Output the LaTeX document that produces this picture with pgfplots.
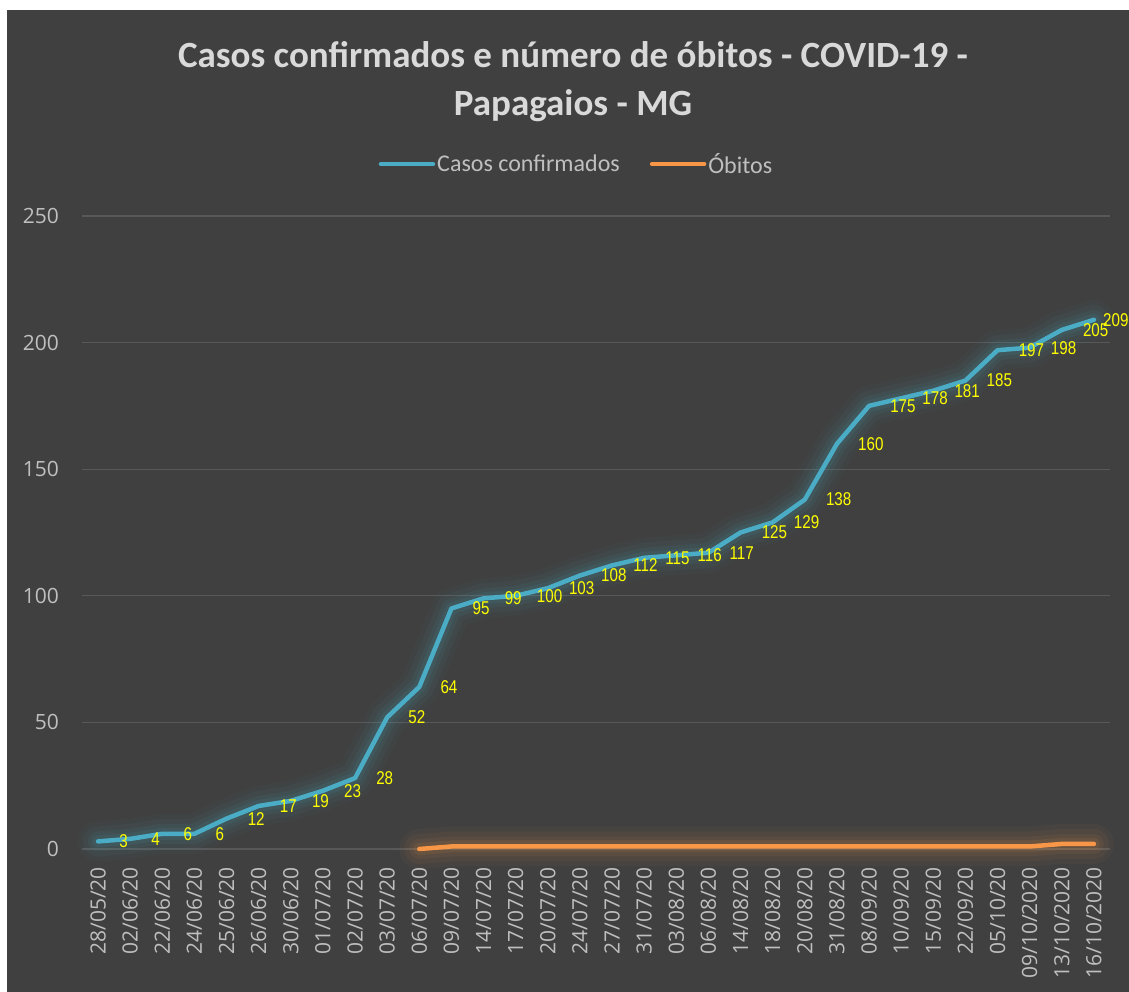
\documentclass[border=0pt]{standalone}
\usepackage{fontspec}
\setmainfont{Carlito}
\newfontfamily\opensans{Open Sans}
\newfontfamily\narrow[FakeStretch=0.82]{Liberation Sans}
\usepackage{pgfplots}
\usepackage{pgfplotstable}
\pgfplotsset{compat=1.18}
\definecolor{bg}{RGB}{64,64,64}
\definecolor{casos}{RGB}{75,172,198}
\definecolor{obitos}{RGB}{247,150,70}
\definecolor{gridc}{RGB}{88,88,88}
\definecolor{ticktxt}{RGB}{191,191,191}
\definecolor{titletxt}{RGB}{217,217,217}
\definecolor{lbl}{RGB}{255,255,0}

\pgfplotstableread{
x casos
0 3
1 4
2 6
3 6
4 12
5 17
6 19
7 23
8 28
9 52
10 64
11 95
12 99
13 100
14 103
15 108
16 112
17 115
18 116
19 117
20 125
21 129
22 138
23 160
24 175
25 178
26 181
27 185
28 197
29 198
30 205
31 209
}\casostab

\pgfplotstableread{
x obitos
10 0
11 1
12 1
13 1
14 1
15 1
16 1
17 1
18 1
19 1
20 1
21 1
22 1
23 1
24 1
25 1
26 1
27 1
28 1
29 1
30 2
31 2
}\obitostab

\begin{document}
\begin{tikzpicture}[x=1pt,y=1pt]
\useasboundingbox (0,0) rectangle (1129,992);
\fill[white] (0,0) rectangle (1129,992);
\fill[bg] (7,0) rectangle (1129,982);
\node[font=\bfseries\fontsize{37}{48}\selectfont, text=titletxt, align=center] at (573,910) {Casos confirmados e número de óbitos - COVID-19 -\\Papagaios - MG};
\begin{axis}[
  at={(82pt,143pt)}, anchor=south west,
  width=1028pt, height=633pt, scale only axis,
  xmin=-0.5, xmax=31.5, ymin=0, ymax=250,
  ytick={0,50,...,250},
  xtick={0,...,31},
  xticklabels={28/05/20,02/06/20,22/06/20,24/06/20,25/06/20,26/06/20,30/06/20,01/07/20,02/07/20,03/07/20,06/07/20,09/07/20,14/07/20,17/07/20,20/07/20,24/07/20,27/07/20,31/07/20,03/08/20,06/08/20,14/08/20,18/08/20,20/08/20,31/08/20,08/09/20,10/09/20,15/09/20,22/09/20,05/10/20,09/10/2020,13/10/2020,16/10/2020},
  major tick length=0pt,
  axis line style={draw=none},
  ymajorgrids, major grid style={gridc, line width=1.2pt},
  /pgf/number format/assume math mode=true,
  ticklabel style={font=\opensans\fontsize{21}{21}\selectfont, text=ticktxt, inner sep=0pt},
  xticklabel style={rotate=90, anchor=east},
  yticklabel style={anchor=east},
  xticklabel shift=18pt,
  yticklabel shift=23pt,
  clip=false,
  legend style={at={(0.481,1.082)}, anchor=center, draw=none, fill=none,
    legend columns=2, font=\fontsize{24}{24}\selectfont, text=ticktxt,
    nodes={inner sep=2pt},
    /tikz/every even column/.append style={column sep=28pt}},
  legend image code/.code={\draw[#1, line width=4.5pt, line cap=round] (0pt,0pt) -- (52pt,0pt);},
  lbls/.style={draw=none, mark=none, forget plot, nodes near coords,
    every node near coord/.append style={anchor=west, inner sep=0pt, text=lbl, font=\narrow\fontsize{18.5}{19}\selectfont}},
]
% glow
\addplot[casos, line width=40pt, opacity=0.035, line join=round, line cap=round, forget plot] table[x=x,y=casos]{\casostab};
\addplot[casos, line width=30pt, opacity=0.05, line join=round, line cap=round, forget plot] table[x=x,y=casos]{\casostab};
\addplot[casos, line width=20pt, opacity=0.07, line join=round, line cap=round, forget plot] table[x=x,y=casos]{\casostab};
\addplot[casos, line width=12pt, opacity=0.09, line join=round, line cap=round, forget plot] table[x=x,y=casos]{\casostab};
\addplot[obitos, line width=40pt, opacity=0.035, line join=round, line cap=round, forget plot] table[x=x,y=obitos]{\obitostab};
\addplot[obitos, line width=30pt, opacity=0.05, line join=round, line cap=round, forget plot] table[x=x,y=obitos]{\obitostab};
\addplot[obitos, line width=20pt, opacity=0.07, line join=round, line cap=round, forget plot] table[x=x,y=obitos]{\obitostab};
\addplot[obitos, line width=12pt, opacity=0.09, line join=round, line cap=round, forget plot] table[x=x,y=obitos]{\obitostab};
% main lines
\addplot[casos, line width=4.5pt, line join=round, line cap=round] table[x=x,y=casos]{\casostab};
\addlegendentry{Casos confirmados}
\addplot[obitos, line width=4.5pt, line join=round, line cap=round] table[x=x,y=obitos]{\obitostab};
\addlegendentry{Óbitos}
% data labels
\addplot[lbls, restrict x to domain=0:30, every node near coord/.append style={xshift=21pt}] table[x=x,y=casos]{\casostab};
\addplot[lbls, restrict x to domain=31:31, every node near coord/.append style={xshift=9pt}] table[x=x,y=casos]{\casostab};
\end{axis}
\end{tikzpicture}
\end{document}
